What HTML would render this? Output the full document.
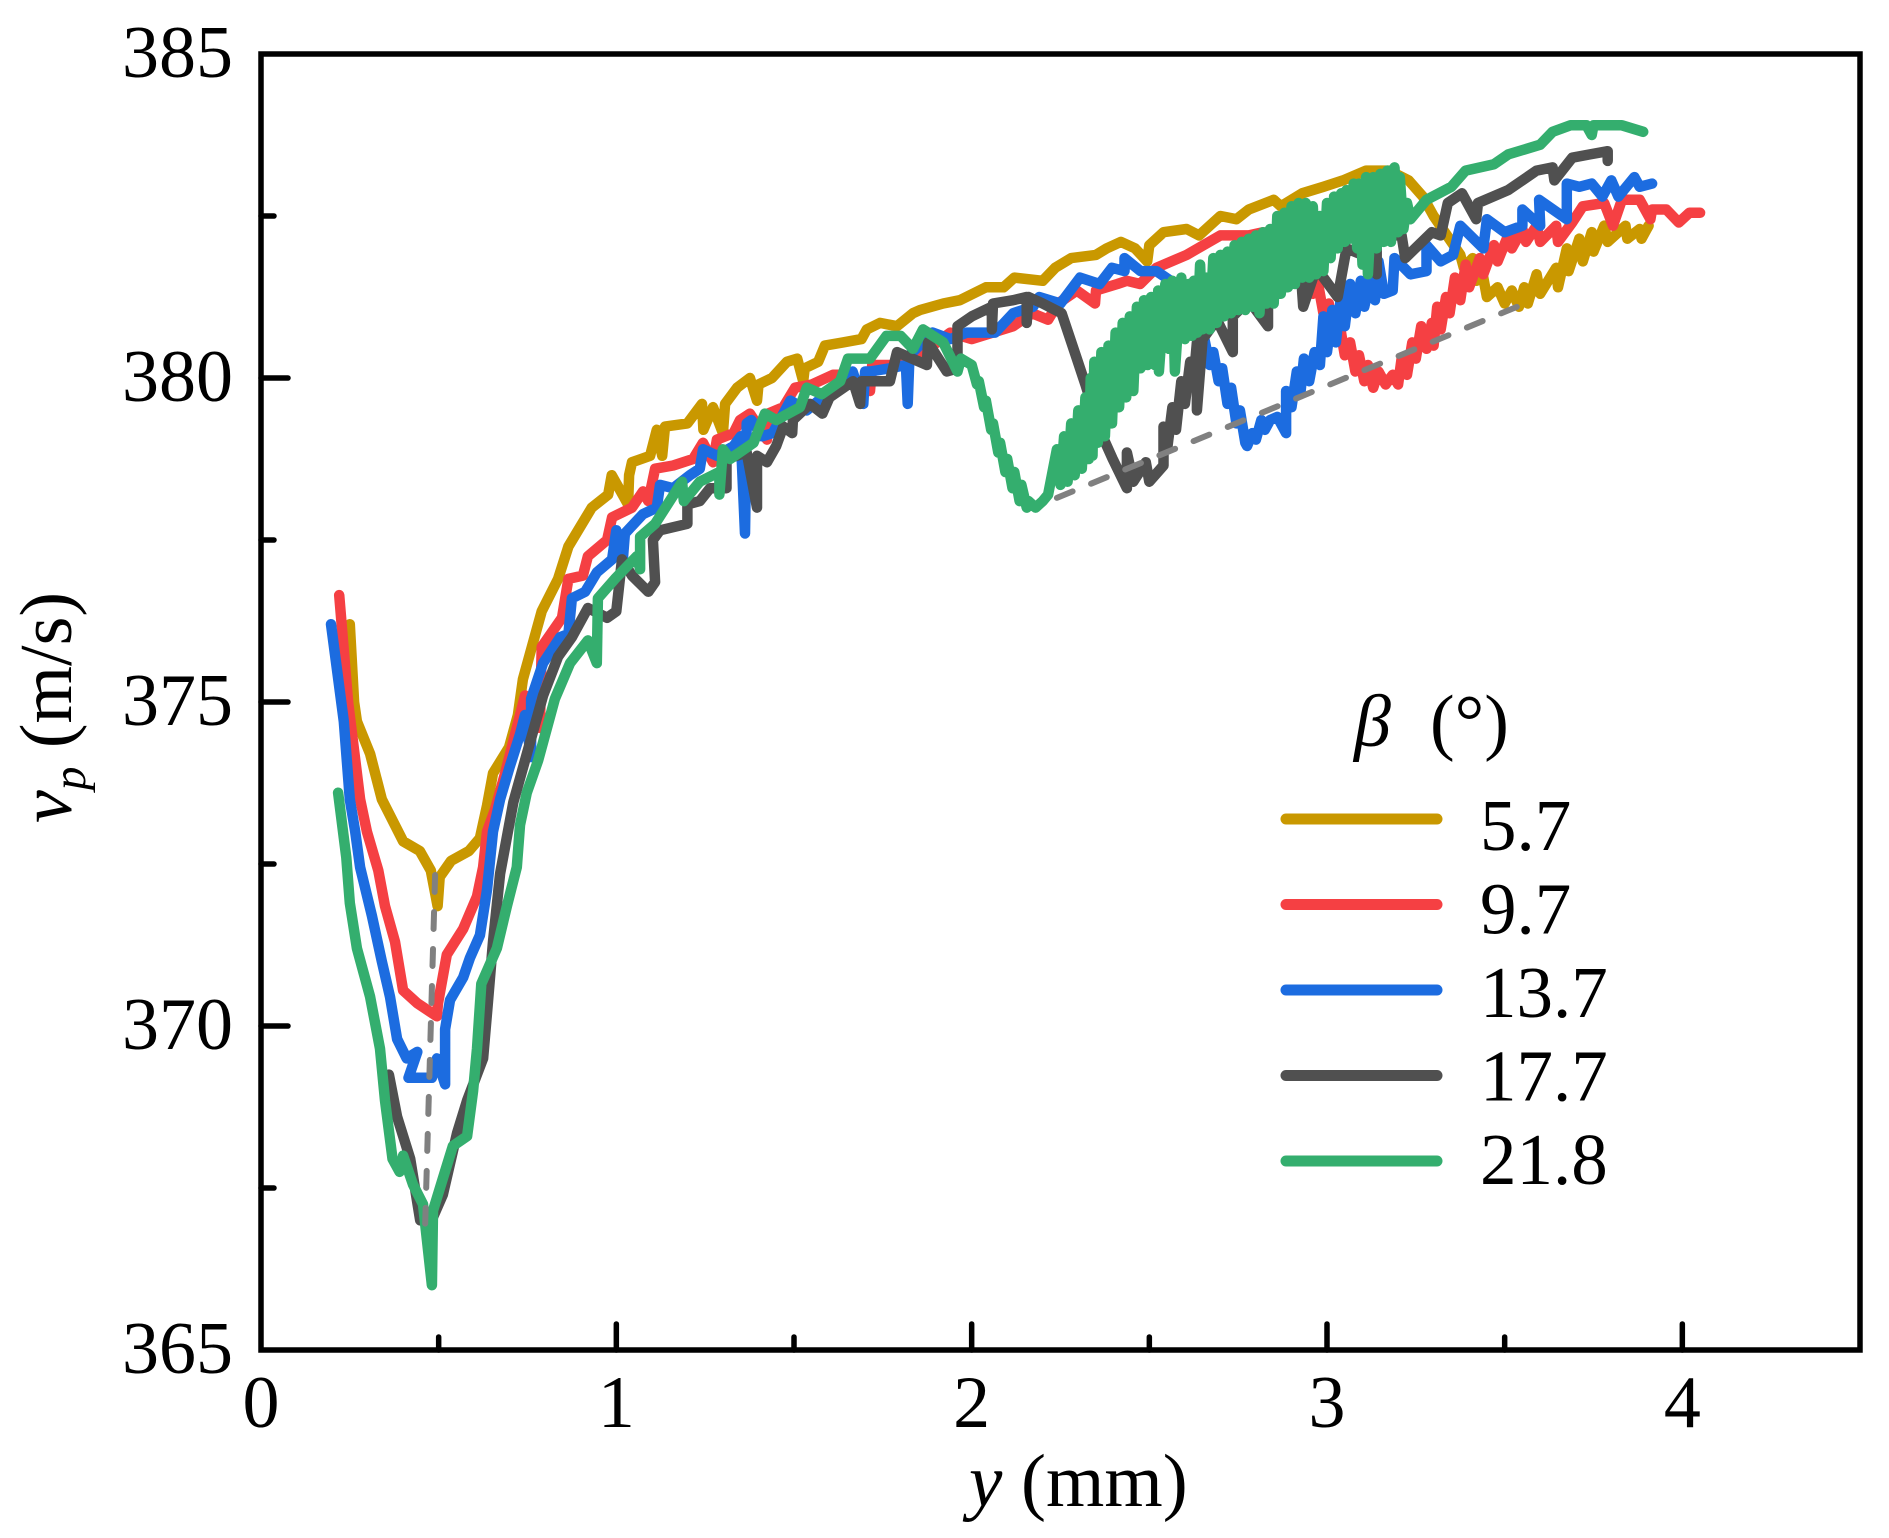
<!DOCTYPE html>
<html lang="en">
<head>
<meta charset="utf-8">
<title>Particle velocity profile</title>
<style>
html,body{margin:0;padding:0;background:#fff;width:1889px;height:1538px;overflow:hidden}
svg{display:block;font-family:"Liberation Serif","Times New Roman",serif;fill:#000}
</style>
</head>
<body>
<svg id="chart" xmlns="http://www.w3.org/2000/svg" width="1889" height="1538" viewBox="0 0 1889 1538">
  <rect x="0" y="0" width="1889" height="1538" fill="#fff"/>
  <g id="series-layer"></g>
  <g id="guide-layer"></g>
  <g id="axis-layer"></g>
  <text x="969" y="1506" font-size="75"><tspan font-style="italic">y</tspan> (mm)</text>
  <text transform="translate(71,823) rotate(-90)" font-size="74"><tspan font-style="italic">v</tspan><tspan font-style="italic" font-size="47" dy="14">p</tspan><tspan dy="-14"> (m/s)</tspan></text>
  <g id="legend">
    <text x="1354" y="746" font-size="74" font-style="italic">β</text>
    <text x="1430" y="746" font-size="74">(°)</text>
  </g>
</svg>
<script>
// Axis ranges and ticks
const xDomain = [0, 4.5];
const yDomain = [365, 385];
const xMajorTicks = [0, 1, 2, 3, 4];
const xMinorTicks = [0.5, 1.5, 2.5, 3.5];
const yMajorTicks = [365, 370, 375, 380, 385];
const yMinorTicks = [367.5, 372.5, 377.5, 382.5];

// Legend
const betaLabels = ["5.7", "9.7", "13.7", "17.7", "21.8"];

// beta = 5.7
const beta57Y = [
  .25,.262,.27,.307,.34,.40,.447,.478,.497,.503,
  .535,.585,.616,.636,.653,.698,.723,.737,.79,.836,
  .865,.898,.931,.977,.987,1.033,1.036,1.044,1.095,1.114,
  1.129,1.137,1.2,1.241,1.245,1.272,1.3,1.306,1.34,1.376,
  1.396,1.4,1.438,1.48,1.509,1.526,1.53,1.568,1.587,1.638,
  1.69,1.705,1.742,1.79,1.835,1.855,1.92,1.967,2.04,2.09,
  2.12,2.2,2.235,2.28,2.35,2.38,2.42,2.46,2.494,2.5,
  2.54,2.605,2.64,2.7,2.745,2.78,2.85,2.87,2.93,2.99,
  3.045,3.11,3.175,3.23,3.27,3.3,
  3.375,3.385,3.41,3.42,3.44,3.45,3.48,3.5,3.52,3.54,
  3.555,3.565,3.59,3.6,3.645,3.65,3.675,3.68,3.71,3.72,
  3.745,3.75,3.78,3.79,3.84,3.845,3.88,3.885,3.905];
const beta57V = [
  376.2,375,374.7,374.2,373.5,372.85,372.7,372.4,371.85,372.3,
  372.55,372.7,372.9,373.4,373.9,374.3,374.8,375.35,376.4,376.9,
  377.4,377.7,378,378.2,378.5,378.05,378.5,378.7,378.8,379.2,
  378.8,379.25,379.3,379.6,379.2,379.55,379.15,379.6,379.85,380,
  379.65,379.9,380,380.25,380.3,379.95,380.15,380.25,380.5,380.55,
  380.6,380.75,380.85,380.8,381,381.05,381.15,381.2,381.4,381.4,
  381.55,381.5,381.7,381.85,381.9,382,382.1,382,381.8,382.05,
  382.25,382.3,382.2,382.5,382.45,382.6,382.75,382.65,382.85,382.95,
  383.05,383.2,383.2,383.05,382.8,382.5,
  381.9,381.7,381.85,381.5,381.55,381.25,381.4,381.15,381.35,381.1,
  381.4,381.15,381.6,381.3,381.7,381.4,382,381.65,382.15,381.8,
  382.25,381.95,382.35,382.1,382.35,382.15,382.3,382.15,382.35];

// beta = 9.7
const beta97Y = [
  .22,.245,.279,.298,.33,.349,.377,.40,.44,.495,
  .498,.523,.569,.608,.625,.636,.659,.687,.715,.743,
  .785,.79,.847,.865,.906,.92,.974,.988,1.044,1.075,
  1.09,1.109,1.16,1.216,1.244,1.272,1.283,1.33,1.348,1.376,
  1.424,1.427,1.47,1.503,1.55,1.61,1.658,1.714,1.72,1.78,
  1.84,1.94,2.0,2.117,2.17,2.215,2.243,2.296,2.347,2.35,
  2.41,2.437,2.474,2.52,2.605,2.7,2.78,2.82,2.87,2.92,
  2.945,2.96,2.975,2.99,3.005,3.02,3.035,3.05,3.065,3.08,
  3.09,3.105,3.115,3.13,3.145,3.165,3.185,3.2,3.21,3.225,
  3.24,3.25,3.265,3.28,3.295,3.3,3.31,3.32,3.335,3.345,
  3.36,3.375,3.39,3.4,3.43,3.44,3.47,3.48,3.51,3.52,
  3.55,3.56,3.59,3.6,3.645,3.65,3.69,3.72,3.78,3.805,
  3.83,3.88,3.91,3.915,3.955,3.99,4.02,4.05];
const beta97V = [
  376.65,375,373.5,373,372.4,371.85,371.3,370.55,370.35,370.15,
  370.35,371.1,371.5,372,372.45,373,373.35,373.9,374.5,375.1,
  374.6,375.85,376.3,376.9,376.95,377.25,377.5,377.85,378,378.25,
  378.1,378.6,378.65,378.75,379,378.7,379.05,379.15,379.35,379.45,
  379.05,379.45,379.55,379.85,379.9,380.05,380.05,379.8,380.2,380.2,
  380.3,380.7,380.6,380.8,381,380.9,381.15,381.35,381.15,381.35,
  381.45,381.5,381.45,381.7,381.9,382.2,382.2,382.25,382.15,381.9,
  381.7,381.3,381.45,381,381.15,380.65,380.85,380.35,380.55,380.1,
  380.35,379.95,380.2,379.85,380.1,379.9,380.05,379.9,380.3,380.05,
  380.55,380.3,380.8,380.45,380.85,380.5,381.1,380.75,381.25,381,
  381.55,381.2,381.75,381.4,381.85,381.6,382.05,381.8,382.2,382,
  382.3,382.1,382.35,382.1,382.35,382.1,382.4,382.65,382.7,382.35,
  382.75,382.75,382.45,382.6,382.6,382.4,382.55,382.55];

// beta = 13.7
const beta137Y = [
  .197,.233,.25,.265,.279,.312,.34,.363,.383,.41,
  .44,.415,.481,.495,.518,.518,.532,.569,.588,.616,
  .636,.653,.673,.70,.729,.743,.76,.76,.794,.842,
  .865,.875,.912,.945,.988,1.0,1.019,1.024,1.075,1.114,
  1.123,1.16,1.207,1.235,1.244,1.283,1.33,1.35,1.362,1.367,
  1.38,1.41,1.44,1.49,1.536,1.58,1.665,1.695,1.7,1.714,
  1.77,1.815,1.82,1.825,1.89,1.94,1.986,2.066,2.117,2.173,
  2.19,2.25,2.305,2.36,2.395,2.43,2.43,2.475,2.52,2.56,
  2.6,2.65,
  2.655,2.67,2.68,2.695,2.705,2.72,2.73,2.745,2.755,2.77,
  2.775,2.79,2.80,2.815,2.825,2.84,2.86,2.885,2.885,2.9,
  2.915,2.925,2.935,2.95,2.965,2.98,2.99,3.0,3.015,3.025,
  3.04,3.05,3.065,3.08,3.095,3.105,3.125,3.135,3.145,3.16,
  3.185,3.19,3.235,3.28,3.28,3.32,3.355,3.375,
  3.44,3.45,3.5,3.55,3.55,3.6,3.597,3.675,3.675,3.71,
  3.745,3.775,3.8,3.82,3.865,3.88,3.915];
const beta137V = [
  376.2,374.7,373.5,373,372.45,371.7,371,370.45,369.8,369.5,
  369.6,369.2,369.2,369.5,369.1,369.95,370.4,370.75,371.05,371.4,
  372.1,373,373.5,374,374.5,374.8,374.15,375.05,375.6,376,
  376.05,376.6,376.7,377,377.2,377.65,377.25,377.6,377.9,378,
  378.35,378.3,378.5,378.6,378.9,378.8,378.95,379.1,377.6,379.3,
  379.35,379.1,379.15,379.65,379.5,379.7,380.1,379.6,380.1,380.1,
  380.15,380.2,379.6,380.35,380.7,380.6,380.7,380.7,381,381.1,
  381.25,381.15,381.55,381.45,381.7,381.65,381.85,381.65,381.65,381.5,
  381,380.7,
  380.6,380.2,380.4,379.95,380.15,379.6,379.85,379.3,379.5,379,
  378.95,379.15,379.05,379.35,379.2,379.35,379.4,379.15,379.8,379.55,
  380.1,379.75,380.3,379.95,380.4,380.2,380.95,380.4,381.05,380.55,
  381.3,380.8,381.45,381,381.5,381.1,381.6,381.2,381.8,381.3,
  381.35,381.85,381.6,381.65,382.05,381.8,381.9,382.35,
  382,382.45,382.25,382.35,382.6,382.35,382.75,382.45,383,382.95,
  383,382.8,383.05,382.8,383.1,382.95,383];

// beta = 17.7
const beta177Y = [
  .36,.383,.42,.448,.484,.512,.552,.58,.625,.636,
  .653,.673,.71,.794,.836,.875,.92,.974,1.0,1.016,
  1.044,1.09,1.109,1.103,1.123,1.2,1.2,1.235,1.264,1.31,
  1.31,1.367,1.396,1.396,1.424,1.45,1.47,1.495,1.497,1.545,
  1.58,1.6,1.666,1.686,1.69,1.77,1.79,1.874,1.877,1.93,
  1.96,1.96,2.0,2.057,2.057,2.06,2.117,2.155,2.155,2.16,
  2.2,2.253,2.296,2.32,2.36,2.397,2.437,2.437,2.455,2.49,
  2.5,2.54,2.54,2.55,2.565,2.575,2.59,2.6,2.615,2.625,
  2.634,2.634,2.65,2.69,2.735,2.735,2.78,
  2.834,2.834,2.88,2.925,2.933,2.97,3.03,3.055,3.1,3.14,
  3.14,3.21,3.22,3.295,3.32,3.34,3.38,3.42,3.425,3.51,
  3.59,3.635,3.64,3.69,3.74,3.79,3.79];
const beta177V = [
  369.25,368.6,367.95,367,367.05,367.4,368.35,368.85,369.5,370.2,
  371.3,372.35,373.45,375.1,375.7,376,376.45,376.3,376.4,377.2,
  376.95,376.7,376.85,377.5,377.65,377.75,378.05,378.1,378.3,378.3,
  378.75,378.85,378,378.8,378.7,378.95,379.25,379.15,379.35,379.6,
  379.45,379.7,379.95,379.6,379.95,379.95,380.4,380.2,380.55,380.1,
  380.15,380.8,380.95,381.1,380.75,381.15,381.2,381.25,380.85,381.25,
  381.15,381,380.3,379.9,379.2,378.75,378.3,378.85,378.4,378.7,
  378.4,378.65,379.25,378.9,379.55,379.2,379.95,379.6,380.25,380,
  380.55,379.5,380.6,380.9,380.4,380.95,381.2,
  380.8,381.3,381.4,381.75,381.1,381.7,381.25,382,381.9,381.6,
  382.2,382.2,381.85,382.25,382.2,382.7,382.85,382.45,382.7,382.9,
  383.2,383.25,383.05,383.4,383.45,383.5,383.35];

// beta = 21.8
const beta218Y = [
  .217,.24,.25,.27,.307,.335,.349,.37,.39,.40,
  .428,.456,.481,.484,.512,.54,.58,.597,.608,.62,
  .664,.692,.72,.729,.748,.78,.827,.87,.92,.945,
  .948,.996,1.058,1.067,1.067,1.109,1.185,1.19,1.235,1.29,
  1.29,1.3,1.32,1.386,1.418,1.45,1.517,1.536,1.578,1.63,
  1.652,1.714,1.76,1.8,1.835,1.863,1.92,1.96,1.97,
  2.0,2.015,2.02,2.035,2.04,2.055,2.06,2.075,2.08,2.095,
  2.1,2.115,2.12,2.135,2.14,2.155,2.16,2.18,2.2,2.215,
  2.24,2.25,2.26,2.27,2.28,2.29,2.30,2.31,2.32,2.33,
  2.335,2.34,2.345,2.355,2.365,2.375,2.385,2.395,2.405,2.415,
  2.425,2.435,2.445,2.455,2.465,2.475,2.485,2.495,2.505,2.515,
  2.525,2.527,2.545,2.555,2.565,2.572,2.59,2.6,2.61,2.62,
  2.625,2.635,2.643,2.65,2.66,2.67,2.68,2.69,2.70,2.71,
  2.72,2.73,2.74,2.75,2.76,2.77,2.78,2.79,2.80,2.81,
  2.82,2.83,2.84,2.85,2.86,2.87,2.88,2.89,2.90,2.91,
  2.92,2.93,2.94,2.95,2.96,2.97,2.98,2.99,3.0,3.01,
  3.02,3.03,3.04,3.05,3.055,3.065,3.075,3.085,3.09,3.1,
  3.11,3.115,3.13,3.14,3.15,3.16,3.17,3.18,3.19,3.2,
  3.205,3.215,3.225,3.235,3.28,3.35,3.39,3.47,3.51,3.6,
  3.635,3.685,3.73,3.745,3.75,3.77,3.83,3.89];
const beta218V = [
  373.6,372.6,371.9,371.2,370.45,369.65,368.85,367.95,367.75,368,
  367.55,367.25,366,367.15,367.65,368.15,368.3,369,369.65,370.65,
  371.2,371.85,372.45,373.1,373.6,374.1,375.05,375.6,375.95,375.6,
  376.6,376.9,377.25,377.05,377.55,377.75,378.4,378.1,378.4,378.55,
  378.2,378.9,378.75,379,379.45,379.35,379.55,379.85,379.75,379.95,
  380.3,380.3,380.65,380.65,380.45,380.75,380.55,380.1,380.3,
  380.2,379.9,379.95,379.55,379.65,379.2,379.3,378.85,379,378.55,
  378.75,378.3,378.55,378.1,378.35,378,378.1,378,378.1,378.2,
  378.9,378.35,379.1,378.4,379.3,378.5,379.5,378.6,379.7,378.75,
  380,378.8,380.25,379,380.4,379.1,380.5,379.3,380.7,379.55,
  380.85,379.7,380.95,379.8,381.1,380.15,381.2,380.2,381.25,380.2,
  381.35,380.1,381.45,380.45,381.5,380.1,381.55,380.6,381.45,380.65,
  381.5,380.7,381.75,380.75,381.55,380.75,381.85,380.85,381.9,380.95,
  381.95,381,382.05,381.05,382.1,381.05,382.15,381.1,382.2,381,
  382.25,381.15,382.3,381.15,382.5,381.3,382.55,381.4,382.65,381.45,
  382.7,381.55,382.7,381.55,382.65,381.6,382.5,381.65,382.7,381.85,
  382.8,382,382.85,382.1,382.9,382.15,383,382,383,381.75,
  383.1,381.6,383.1,382,383.15,382.1,383.2,382.1,383.25,382.25,
  383.1,382.3,382.7,382.45,382.75,382.95,383.2,383.3,383.45,383.6,
  383.8,383.9,383.9,383.75,383.9,383.9,383.9,383.8];

// Dashed guide lines (y in mm, vp in m/s)
const minimaGuideY = [0.49, 0.462];
const minimaGuideV = [372.33, 366.95];
const troughGuideY = [2.24, 3.557];
const troughGuideV = [378.15, 381.15];

const seriesColors = ["#c99800", "#f54043", "#1c6ce0", "#505050", "#34ae6e"];
const seriesY = [beta57Y, beta97Y, beta137Y, beta177Y, beta218Y];
const seriesV = [beta57V, beta97V, beta137V, beta177V, beta218V];

const NS = "http://www.w3.org/2000/svg";
const plotLeft = 261, plotRight = 1860, plotTop = 54, plotBottom = 1350;
function sx(v) { return plotLeft + (v - xDomain[0]) / (xDomain[1] - xDomain[0]) * (plotRight - plotLeft); }
function sy(v) { return plotBottom - (v - yDomain[0]) / (yDomain[1] - yDomain[0]) * (plotBottom - plotTop); }
function make(tag, attrs, parent) {
  const el = document.createElementNS(NS, tag);
  for (const k in attrs) el.setAttribute(k, attrs[k]);
  parent.appendChild(el);
  return el;
}
function linePath(ys, vs) {
  let d = "";
  const n = Math.min(ys.length, vs.length);
  for (let i = 0; i < n; i++) d += (i ? "L" : "M") + sx(ys[i]).toFixed(1) + " " + sy(vs[i]).toFixed(1);
  return d;
}

const seriesLayer = document.getElementById("series-layer");
seriesY.forEach(function (ys, i) {
  const el = make("path", { d: linePath(ys, seriesV[i]), fill: "none", stroke: seriesColors[i], "stroke-width": 10.5, "stroke-linejoin": "round", "stroke-linecap": "round" }, seriesLayer);
  
  
});

const guideLayer = document.getElementById("guide-layer");
[[minimaGuideY, minimaGuideV, 'minima-guide-line'], [troughGuideY, troughGuideV, 'trough-guide-line']].forEach(function (g) {
  const el = make("path", { d: linePath(g[0], g[1]), fill: "none", stroke: "#808080", "stroke-width": 6, "stroke-linecap": "round", "stroke-dasharray": "17 20" }, guideLayer);
  
  
});

const axisLayer = document.getElementById("axis-layer");
const frame = make("rect", { x: plotLeft, y: plotTop, width: plotRight - plotLeft, height: plotBottom - plotTop, fill: "none", stroke: "#000", "stroke-width": 5.5 }, axisLayer);



function xTick(v, len) {
  const el = make("line", { x1: sx(v), x2: sx(v), y1: plotBottom, y2: plotBottom - len, stroke: "#000", "stroke-width": 5.5, "stroke-linecap": "round" }, axisLayer);
  
  
}
function yTick(v, len) {
  const el = make("line", { x1: plotLeft, x2: plotLeft + len, y1: sy(v), y2: sy(v), stroke: "#000", "stroke-width": 5.5, "stroke-linecap": "round" }, axisLayer);
  
  
}
xMajorTicks.forEach(function (v) {
  if (v > xDomain[0]) xTick(v, 26);
  const t = make("text", { x: sx(v), y: 1427, "font-size": 74, "text-anchor": "middle" }, axisLayer);
  t.textContent = String(v);
  
  
});
xMinorTicks.forEach(function (v) { xTick(v, 13); });
yMajorTicks.forEach(function (v) {
  if (v > yDomain[0] && v < yDomain[1]) yTick(v, 27);
  const t = make("text", { x: 233, y: sy(v) + 23, "font-size": 74, "text-anchor": "end" }, axisLayer);
  t.textContent = String(v);
  
  
});
yMinorTicks.forEach(function (v) { yTick(v, 13); });

const legend = document.getElementById("legend");
const legendRowTop = 819, legendRowGap = 85.5;
const legendTextTop = 850, legendTextGap = 83.5;
betaLabels.forEach(function (label, i) {
  const cy = legendRowTop + i * legendRowGap;
  const ln = make("line", { x1: 1286, x2: 1437, y1: cy, y2: cy, stroke: seriesColors[i], "stroke-width": 11, "stroke-linecap": "round" }, legend);
  
  
  const t = make("text", { x: 1480, y: legendTextTop + i * legendTextGap, "font-size": 73 }, legend);
  t.textContent = label;
  
  
});
</script>
</body>
</html>
